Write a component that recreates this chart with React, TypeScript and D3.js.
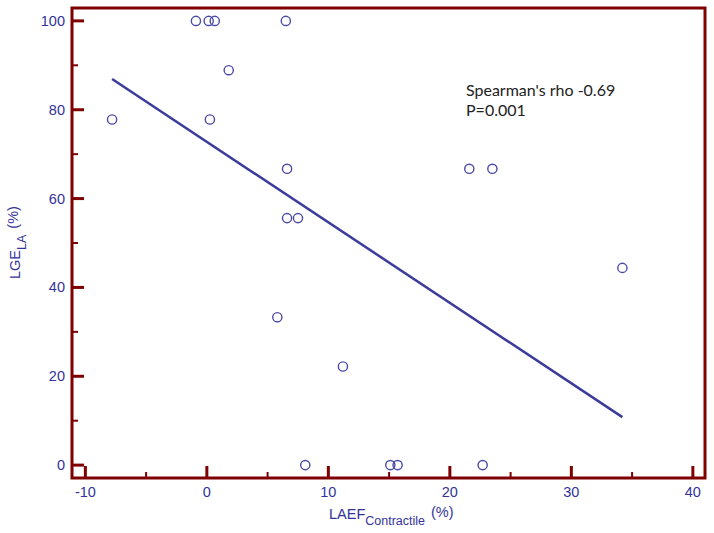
import React from "react";
import * as d3 from "d3";

const laef = [-7.8, -0.9, 0.15, 0.65, 6.5, 1.8, 0.25, 6.6, 6.6, 7.5, 5.8, 11.2, 8.1, 15.1, 15.7, 22.7, 21.6, 23.5, 34.2];
const lge = [77.8, 100, 100, 100, 100, 88.9, 77.8, 66.7, 55.6, 55.6, 33.3, 22.2, 0, 0, 0, 0, 66.7, 66.7, 44.4];
const fitX = [-7.8, 34.2];
const fitY = [86.9, 10.8];
const xTicks = [-10, 0, 10, 20, 30, 40];
const xMinor = [-5, 5, 15, 25, 35];
const yTicks = [0, 20, 40, 60, 80, 100];
const yMinor = [10, 30, 50, 70, 90];
const annotation = ["Spearman's rho -0.69", "P=0.001"];

const W = 714, H = 533;
const L = 72, R = 705, T = 8, B = 478;
const AX = "#7f0000";
const BLUE = "#333399";

export default function App() {
  const x = d3.scaleLinear().domain([-11.1, 41]).range([L, R]);
  const y = d3.scaleLinear().domain([-2.9, 102.9]).range([B, T]);
  const line = d3.line<number>().x((_, i) => x(fitX[i])).y((d) => y(d));
  return (
    <svg width={W} height={H} style={{ position: "absolute", left: 0, top: 0, background: "#fff" }}>
      <rect x={0} y={0} width={W} height={H} fill="#fff" />
      <rect x={L} y={T} width={R - L} height={B - T} fill="none" stroke={AX} strokeWidth={3} />
      {xTicks.map((t) => (
        <line key={"xt" + t} x1={x(t)} x2={x(t)} y1={B} y2={B - 12} stroke={AX} strokeWidth={3} />
      ))}
      {xMinor.map((t) => (
        <line key={"xm" + t} x1={x(t)} x2={x(t)} y1={B} y2={B - 6} stroke={AX} strokeWidth={2} />
      ))}
      {yTicks.map((t) => (
        <line key={"yt" + t} x1={L} x2={L + 12} y1={y(t)} y2={y(t)} stroke={AX} strokeWidth={3} />
      ))}
      {yMinor.map((t) => (
        <line key={"ym" + t} x1={L} x2={L + 6} y1={y(t)} y2={y(t)} stroke={AX} strokeWidth={2} />
      ))}
      {xTicks.map((t) => (
        <text key={"xl" + t} x={x(t)} y={B + 19} textAnchor="middle" fontFamily="Liberation Sans, Arial, sans-serif" fontSize={14.5} fill={BLUE}>
          {t}
        </text>
      ))}
      {yTicks.map((t) => (
        <text key={"yl" + t} x={L - 7} y={y(t) + 5} textAnchor="end" fontFamily="Liberation Sans, Arial, sans-serif" fontSize={14.5} fill={BLUE}>
          {t}
        </text>
      ))}
      <text x={329} y={519} fontFamily="Liberation Sans, Arial, sans-serif" fontSize={14.5} fill={BLUE}>
        LAEF
        <tspan fontSize={12.5} dy={6}>Contractile</tspan>
        <tspan dy={-8} dx={6}>(%)</tspan>
      </text>
      <text transform="translate(20,279) rotate(-90)" fontFamily="Liberation Sans, Arial, sans-serif" fontSize={14.5} fill={BLUE}>
        LGE
        <tspan fontSize={12.5} dy={6}>LA</tspan>
        <tspan dy={-8} dx={6}>(%)</tspan>
      </text>
      <path d={line(fitY) || ""} fill="none" stroke="#3b3b9b" strokeWidth={2.5} />
      {laef.map((v, i) => (
        <circle key={"p" + i} cx={x(v)} cy={y(lge[i])} r={4.6} fill="none" stroke="#4a4aa8" strokeWidth={1.4} />
      ))}
      {annotation.map((s, i) => (
        <text key={"a" + i} x={466} y={96 + i * 20} fontFamily="Lato, Open Sans, sans-serif" fontSize={16} fill="#222">
          {s}
        </text>
      ))}
    </svg>
  );
}
